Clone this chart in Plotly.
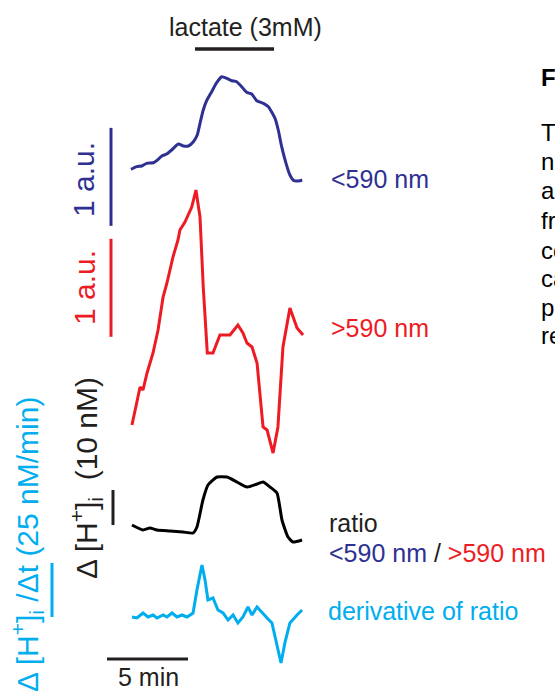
import plotly.graph_objects as go

# ---------------- data (minutes from start of recording) ----------------
blue_t = [0.0, 0.35, 0.66, 0.97, 1.38, 1.68, 1.90, 2.20, 2.51, 2.92, 3.23, 3.54, 3.85, 4.09, 4.26,
          4.46, 4.67, 4.98, 5.29, 5.60, 5.91, 6.22, 6.52, 6.83, 7.14, 7.45, 7.76, 8.17, 8.48, 8.89,
          9.09, 9.30, 9.57, 9.81, 10.06, 10.43, 10.57]
blue_v = [0.007, 0.034, 0.041, 0.068, 0.074, 0.109, 0.143, 0.163, 0.204, 0.265, 0.245, 0.245, 0.289,
          0.357, 0.476, 0.612, 0.707, 0.799, 0.891, 0.952, 0.936, 0.911, 0.901, 0.850, 0.793, 0.776,
          0.707, 0.680, 0.646, 0.527, 0.408, 0.238, 0.068, -0.051, -0.109, -0.109, -0.102]  # a.u.

red_t = [0.06, 0.37, 0.56, 0.74, 0.99, 1.36, 1.67, 1.98, 2.22, 2.59, 2.90, 3.02, 3.33, 3.75, 4.01,
         4.26, 4.46, 4.71, 5.06, 5.49, 6.11, 6.60, 6.91, 7.16, 7.47, 7.78, 8.15, 8.40, 8.77, 9.07,
         9.38, 9.81, 10.0, 10.25, 10.62]
red_v = [0.0, 0.255, 0.388, 0.357, 0.531, 0.735, 0.969, 1.306, 1.449, 1.714, 1.888, 1.990, 2.071,
         2.224, 2.398, 2.122, 1.408, 0.735, 0.735, 0.918, 0.918, 1.020, 0.939, 0.837, 0.796, 0.633,
         -0.020, -0.051, -0.286, -0.020, 0.796, 1.194, 1.102, 0.990, 0.918]  # a.u.

ratio_t = [0.06, 0.74, 1.17, 1.60, 2.41, 3.21, 3.83, 4.07, 4.44, 4.75, 5.31, 5.93, 6.54, 7.16, 7.78,
           8.15, 8.58, 9.01, 9.32, 9.69, 10.0, 10.56]
ratio_v = [0.0, -1.43, -0.86, -1.43, -1.71, -2.0, -2.29, -0.57, 7.14, 11.43, 13.71, 13.71, 12.29,
           10.86, 11.71, 12.29, 10.86, 9.14, 1.43, -3.43, -4.86, -4.29]  # nM

deriv_t = [0.06, 0.37, 0.74, 1.05, 1.36, 1.60, 1.98, 2.22, 2.53, 2.84, 3.15, 3.46, 3.83, 4.07, 4.38,
           4.57, 4.75, 5.06, 5.37, 5.68, 5.99, 6.30, 6.60, 6.91, 7.22, 7.47, 7.78, 8.09, 8.40, 8.70,
           9.01, 9.26, 9.51, 9.81, 10.25, 10.56]
deriv_v = [0.0, -0.46, 1.85, 0.0, 0.93, -0.46, 0.93, 0.0, 1.85, 0.0, 0.93, 0.0, 1.85, 12.5, 24.1,
           17.1, 7.87, 8.80, 3.24, 1.85, -1.39, 0.93, -2.78, 0.0, 4.63, 0.93, 4.63, 2.31, -0.46,
           -2.78, -13.9, -21.3, -11.6, -2.78, 0.93, 3.24]  # nM/min

lactate_on = [3.95, 8.83]      # minutes
scale_min = 5                  # min
scale_au = 1                   # a.u.
scale_nM = 10                  # nM
scale_rate = 25                # nM/min

# ---------------- layout geometry ----------------
W, H = 555, 693
X0_PX, PX_PER_MIN = 131, 16.2
BLUE_C, RED_C, BLACK_C, CYAN_C, TXT_C = "#2E3192", "#ED1C24", "#000000", "#00AEEF", "#231F20"
FONT = "Liberation Sans, Arial, sans-serif"


def yrange(zero_px, px_per_unit):
    return [(zero_px - H) / px_per_unit, zero_px / px_per_unit]


def px2t(px):
    return (px - X0_PX) / PX_PER_MIN


fig = go.Figure()
lw = 3
fig.add_trace(go.Scatter(x=blue_t, y=blue_v, mode="lines",
                         line=dict(color=BLUE_C, width=lw, shape="spline", smoothing=0.5), yaxis="y"))
fig.add_trace(go.Scatter(x=red_t, y=red_v, mode="lines", line=dict(color=RED_C, width=lw), yaxis="y2"))
fig.add_trace(go.Scatter(x=ratio_t, y=ratio_v, mode="lines",
                         line=dict(color=BLACK_C, width=lw, shape="spline", smoothing=0.5), yaxis="y3"))
fig.add_trace(go.Scatter(x=deriv_t, y=deriv_v, mode="lines", line=dict(color=CYAN_C, width=lw), yaxis="y4"))

# scale bars (drawn in each axis' own units)
bx = px2t(111)
fig.add_trace(go.Scatter(x=[bx, bx], y=[-0.57, -0.57 + scale_au], mode="lines",
                         line=dict(color=BLUE_C, width=3), yaxis="y"))
fig.add_trace(go.Scatter(x=[bx, bx], y=[0.9, 0.9 + scale_au], mode="lines",
                         line=dict(color=RED_C, width=3), yaxis="y2"))
kx = px2t(113)
fig.add_trace(go.Scatter(x=[kx, kx], y=[0, scale_nM], mode="lines",
                         line=dict(color=TXT_C, width=3), yaxis="y3"))
cx = px2t(52)
fig.add_trace(go.Scatter(x=[cx, cx], y=[0, scale_rate], mode="lines",
                         line=dict(color=CYAN_C, width=3), yaxis="y4"))
# time scale bar and lactate bar
t5 = px2t(107)
fig.add_shape(type="line", xref="x", yref="paper", x0=t5, x1=t5 + scale_min,
              y0=1 - 659 / H, y1=1 - 659 / H, line=dict(color=TXT_C, width=3))
fig.add_shape(type="line", xref="x", yref="paper", x0=lactate_on[0], x1=lactate_on[1],
              y0=1 - 49 / H, y1=1 - 49 / H, line=dict(color=TXT_C, width=3.5))

ann = []


def text(s, px, py, color, size=25, xanchor="left", angle=0, bold=False):
    ann.append(dict(text=("<b>%s</b>" % s) if bold else s, x=px / W, y=1 - py / H, xref="paper", yref="paper",
                    xanchor=xanchor, yanchor="middle", showarrow=False, textangle=angle,
                    font=dict(family=FONT, size=size, color=color)))


text("lactate (3mM)", 245, 27, TXT_C, xanchor="center")
text("&lt;590 nm", 329, 179, BLUE_C)
text("&gt;590 nm", 329, 328, RED_C)
text("ratio", 327, 523, TXT_C)
text('<span style="color:%s">&lt;590 nm</span> / <span style="color:%s">&gt;590 nm</span>' % (BLUE_C, RED_C),
     327, 553, TXT_C)
text("derivative of ratio", 326, 611, CYAN_C)
text("5 min", 148, 677, TXT_C, xanchor="center")
text("1 a.u.", 84, 180, BLUE_C, size=30, xanchor="center", angle=-90)
text("1 a.u.", 84, 288, RED_C, size=30, xanchor="center", angle=-90)
text("Δ [H<sup>+</sup>]<sub>i</sub>  (10 nM)", 86, 478, TXT_C, size=30, xanchor="center", angle=-90)
text("Δ [H<sup>+</sup>]<sub>i</sub> /Δt (25 nM/min)", 27, 545, CYAN_C, size=30, xanchor="center", angle=-90)

# clipped caption column at right edge
text("F", 539, 77, "#000000", size=24, bold=True)
for s, py in [("T", 132), ("n", 162), ("a", 190), ("fr", 220), ("co", 250),
              ("ca", 278), ("p", 307), ("re", 335)]:
    text(s, 539, py, "#000000", size=24)

hidden = dict(visible=False, showgrid=False, zeroline=False, fixedrange=True)
fig.update_layout(
    width=W, height=H, margin=dict(l=0, r=0, t=0, b=0),
    paper_bgcolor="white", plot_bgcolor="white", showlegend=False,
    xaxis=dict(range=[px2t(0), px2t(W)], domain=[0, 1], **hidden),
    yaxis=dict(range=yrange(170, 98), domain=[0, 1], **hidden),
    yaxis2=dict(range=yrange(425, 98), overlaying="y", **hidden),
    yaxis3=dict(range=yrange(525, 3.5), overlaying="y", **hidden),
    yaxis4=dict(range=yrange(617, 2.16), overlaying="y", **hidden),
    annotations=ann,
)
fig.write_html("out.html", config={"displayModeBar": False},
               post_script="document.body.style.margin='0';document.body.style.overflow='hidden';")
